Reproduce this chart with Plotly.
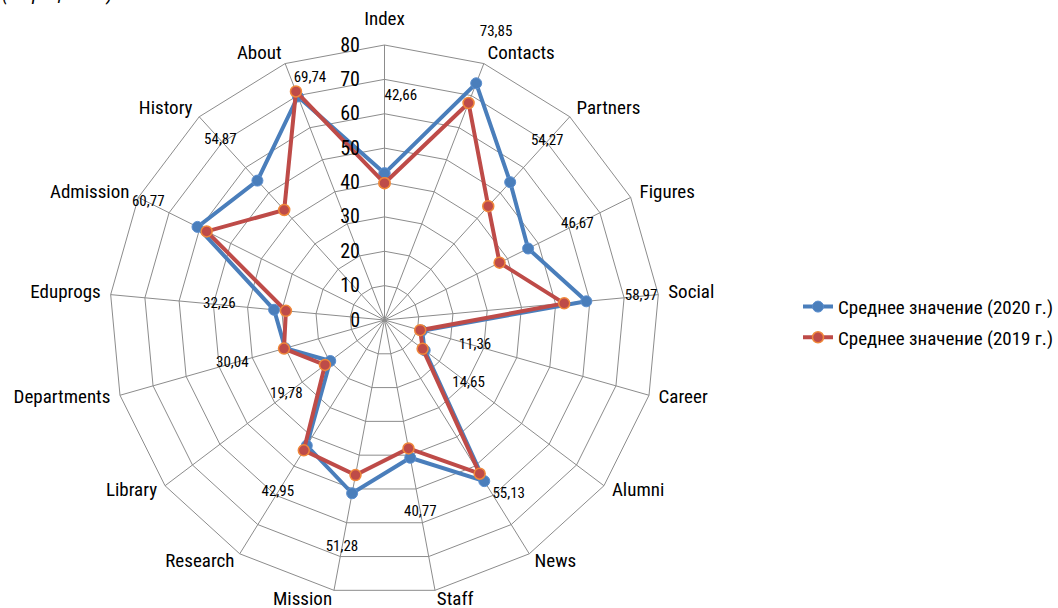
import plotly.graph_objects as go

# Site sections (clockwise from the top)
categories = ["Index", "Contacts", "Partners", "Figures", "Social", "Career",
              "Alumni", "News", "Staff", "Mission", "Research", "Library",
              "Departments", "Eduprogs", "Admission", "History", "About"]

# Average values, per cent
values_2020 = [42.66, 73.85, 54.27, 46.67, 58.97, 11.36, 14.65, 55.13, 40.77,
               51.28, 42.95, 19.78, 30.04, 32.26, 60.77, 54.87, 69.74]
values_2019 = [39.8, 67.7, 44.8, 37.4, 52.5, 10.8, 13.9, 52.6, 38.0,
               45.9, 44.6, 21.7, 30.4, 28.8, 57.8, 43.3, 71.3]

radial_ticks = [0, 10, 20, 30, 40, 50, 60, 70, 80]

name_2020 = "Среднее значение (2020 г.)"
name_2019 = "Среднее значение (2019 г.)"

# Value labels: radial distance beyond the point and text anchor
label_gap = [22.5, 16, 16, 16, 16, 16, 16, 4.5, 16, 16, 16, 16, 16, 16, 16, 16, 3.4]
label_pos = ["middle right"] + ["middle center"] * 6 + ["middle right"] + \
            ["middle center"] * 8 + ["top right"]

# Section names sit just outside the outer ring
name_radius = [87.2] + [82.9] * 16
name_pos = ["middle center"] + ["middle right"] * 8 + ["middle left"] * 8

FONT = "Roboto Condensed, Roboto, sans-serif"
BLUE = "#4A7EBB"
RED = "#BE4B48"
GRID = "#8C8C8C"

W, H = 1058, 608
CX, CY = 384.5, 320          # chart centre, px from top-left
R_PX = 275                   # radius of the outer ring, px
R_MAX = 80                   # value at the outer ring
R_FULL_PX = H - CY           # largest full-circle overlay that fits the page
R_TOP_PX = CY                # upper half-circle overlay reaches the top edge

ANGULAR = dict(type="category", categoryorder="array", categoryarray=categories,
               period=len(categories), direction="clockwise", rotation=90)


def closed(seq):
    return list(seq) + [seq[0]]


def fmt(v):
    return f"{v:.2f}".replace(".", ",")


def dom(r_px, lower=True):
    x = [(CX - r_px) / W, (CX + r_px) / W]
    y = [(H - CY - (r_px if lower else 0)) / H, (H - CY + r_px) / H]
    return dict(x=x, y=y)


def overlay(r_px, sector):
    return dict(
        domain=dom(r_px, lower=sector is None),
        sector=sector if sector else [0, 360],
        bgcolor="rgba(0,0,0,0)",
        radialaxis=dict(range=[0, R_MAX * r_px / R_PX], visible=False),
        angularaxis=dict(**ANGULAR, showline=False, showgrid=False, ticks="",
                         showticklabels=False),
    )


fig = go.Figure()

fig.add_trace(go.Scatterpolar(
    r=closed(values_2020), theta=closed(categories), name=name_2020,
    mode="lines+markers", legendgroup="a",
    line=dict(color=BLUE, width=4),
    marker=dict(color=BLUE, size=11, line=dict(color="#5B8FD0", width=1)),
))
fig.add_trace(go.Scatterpolar(
    r=closed(values_2019), theta=closed(categories), name=name_2019,
    mode="lines+markers", legendgroup="b",
    line=dict(color=RED, width=4),
    marker=dict(color=RED, size=11, line=dict(color="#F0883A", width=1.5)),
))


def add_text(radii, texts, positions, size):
    # texts beyond the full-circle overlay go to the upper half-circle overlay
    limit = R_MAX * R_FULL_PX / R_PX
    for sub, keep in (("polar2", lambda r: r <= limit), ("polar3", lambda r: r > limit)):
        idx = [i for i, r in enumerate(radii) if keep(r)]
        if not idx:
            continue
        fig.add_trace(go.Scatterpolar(
            r=[radii[i] for i in idx], theta=[categories[i] for i in idx],
            mode="text", text=[texts[i] for i in idx],
            textposition=[positions[i] for i in idx],
            textfont=dict(family=FONT, size=size, color="black"),
            cliponaxis=False, showlegend=False, hoverinfo="skip", subplot=sub,
        ))


add_text([v + g for v, g in zip(values_2020, label_gap)],
         [fmt(v) for v in values_2020], label_pos, 15)
add_text(name_radius, categories, name_pos, 19)

fig.update_layout(
    width=W, height=H,
    margin=dict(l=0, r=0, t=0, b=0),
    paper_bgcolor="white",
    font=dict(family=FONT, size=19, color="black"),
    polar=dict(
        domain=dom(R_PX),
        bgcolor="white",
        gridshape="linear",
        radialaxis=dict(
            range=[0, R_MAX], tickvals=radial_ticks, angle=90, side="counterclockwise",
            tickangle=90, showline=False,
            ticks="outside", ticklen=17, tickcolor="rgba(0,0,0,0)",
            gridcolor=GRID, gridwidth=1,
            tickfont=dict(family=FONT, size=20, color="black"),
        ),
        angularaxis=dict(
            **ANGULAR,
            showline=True, linecolor=GRID, linewidth=1,
            gridcolor=GRID, gridwidth=1, ticks="", showticklabels=False,
        ),
    ),
    polar2=overlay(R_FULL_PX, None),
    polar3=overlay(R_TOP_PX, [0, 180]),
    legend=dict(
        x=1.0, y=0.47, xanchor="right", yanchor="middle",
        font=dict(family=FONT, size=19, color="black"),
        tracegroupgap=3, bgcolor="rgba(0,0,0,0)",
    ),
    annotations=[dict(
        text="<i>(в процентах)</i>", xref="paper", yref="paper",
        x=0.0, y=1 + 7 / H, xanchor="left", yanchor="middle",
        showarrow=False, font=dict(family=FONT, size=20, color="black"),
    )],
)

fig.write_html("out.html")
